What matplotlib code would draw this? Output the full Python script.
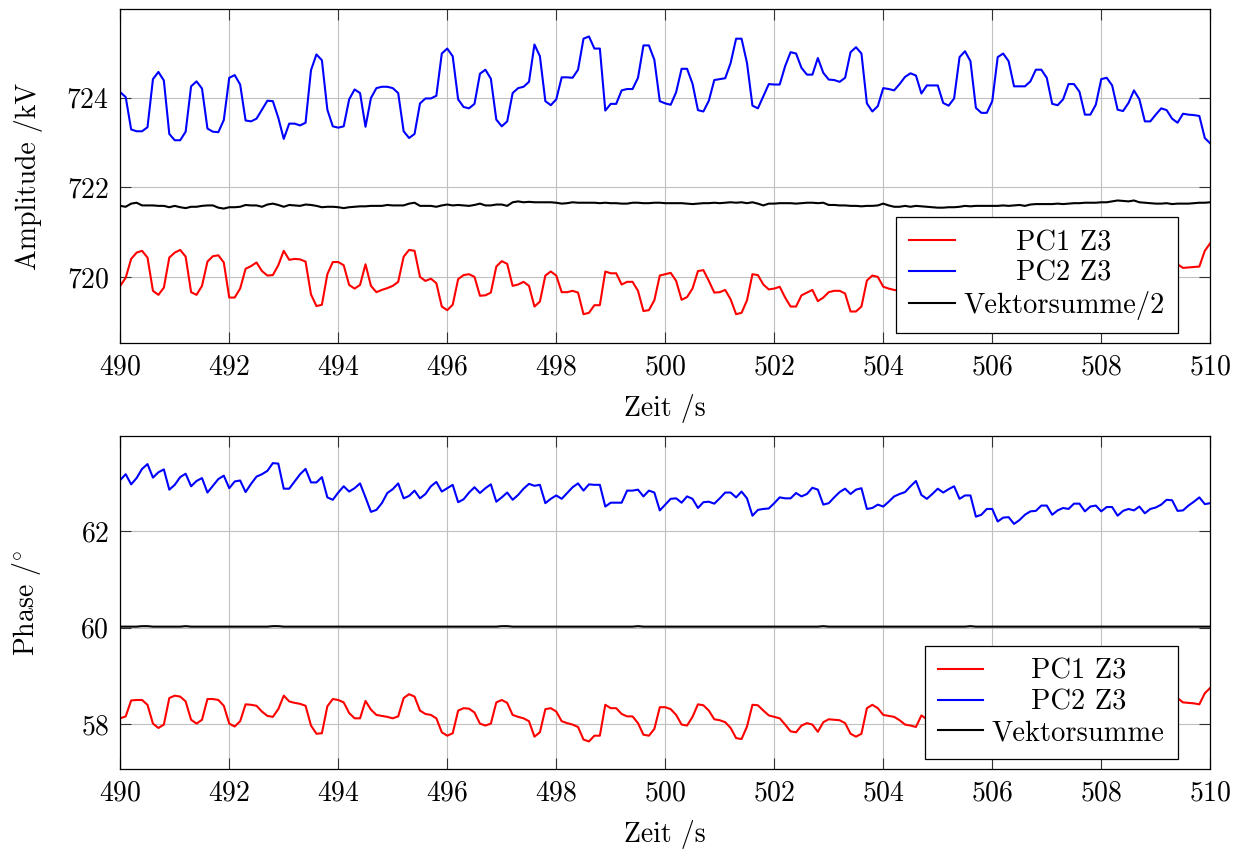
import numpy as np
import matplotlib
matplotlib.use("Agg")
import matplotlib.pyplot as plt

# Zeitachse: 490 s .. 510 s, Abtastung 0.1 s
zeit = np.round(np.linspace(490, 510, 201), 1)

# Amplitude /kV
amp_pc1 = [719.81, 719.99, 720.41, 720.55, 720.59, 720.44, 719.70, 719.61, 719.77, 720.44,
           720.55, 720.61, 720.46, 719.67, 719.61, 719.81, 720.35, 720.47, 720.49, 720.33,
           719.55, 719.55, 719.75, 720.19, 720.25, 720.33, 720.14, 720.04, 720.05, 720.27,
           720.59, 720.39, 720.41, 720.40, 720.35, 719.62, 719.36, 719.39, 720.07, 720.34,
           720.34, 720.27, 719.83, 719.75, 719.83, 720.29, 719.81, 719.67, 719.72, 719.76,
           719.81, 719.90, 720.46, 720.61, 720.59, 720.01, 719.92, 719.97, 719.87, 719.35,
           719.27, 719.39, 719.96, 720.05, 720.07, 720.01, 719.59, 719.60, 719.66, 720.24,
           720.36, 720.30, 719.81, 719.84, 719.90, 719.81, 719.35, 719.46, 720.04, 720.13,
           720.04, 719.67, 719.67, 719.70, 719.66, 719.18, 719.21, 719.38, 719.38, 720.13,
           720.09, 720.09, 719.84, 719.90, 719.90, 719.70, 719.25, 719.27, 719.49, 720.04,
           720.07, 720.10, 719.92, 719.50, 719.56, 719.75, 720.14, 720.16, 719.92, 719.66,
           719.67, 719.72, 719.51, 719.18, 719.21, 719.49, 720.07, 720.05, 719.84, 719.73,
           719.75, 719.79, 719.55, 719.35, 719.35, 719.60, 719.66, 719.72, 719.47, 719.55,
           719.67, 719.70, 719.70, 719.64, 719.24, 719.24, 719.35, 719.93, 720.04, 720.01,
           719.79, 719.75, 719.72, 719.70, 719.70, 719.60, 719.60, 719.95, 719.80, 719.80,
           719.80, 720.15, 720.20, 720.05, 719.35, 719.25, 719.40, 720.20, 720.30, 720.30,
           720.10, 719.35, 719.30, 719.45, 719.85, 719.85, 719.85, 719.75, 719.55, 719.55,
           719.70, 720.15, 720.15, 720.05, 719.80, 719.80, 719.90, 720.30, 720.30, 720.15,
           719.75, 719.70, 719.85, 720.25, 720.25, 720.10, 719.90, 720.05, 720.40, 720.40,
           720.30, 720.20, 720.25, 720.35, 720.29, 720.21, 720.22, 720.23, 720.24, 720.59,
           720.76]
amp_pc2 = [724.12, 724.01, 723.29, 723.25, 723.25, 723.34, 724.41, 724.57, 724.38, 723.19,
           723.05, 723.05, 723.24, 724.25, 724.36, 724.20, 723.31, 723.24, 723.23, 723.50,
           724.44, 724.50, 724.29, 723.49, 723.47, 723.53, 723.73, 723.93, 723.92, 723.55,
           723.08, 723.42, 723.42, 723.38, 723.44, 724.61, 724.96, 724.83, 723.73, 723.36,
           723.33, 723.36, 723.96, 724.18, 724.10, 723.35, 723.99, 724.21, 724.24, 724.24,
           724.21, 724.10, 723.25, 723.10, 723.19, 723.87, 723.98, 723.98, 724.04, 724.98,
           725.09, 724.92, 723.96, 723.79, 723.76, 723.86, 724.53, 724.62, 724.42, 723.51,
           723.36, 723.47, 724.10, 724.21, 724.24, 724.35, 725.18, 724.92, 723.92, 723.83,
           723.96, 724.45, 724.45, 724.44, 724.62, 725.31, 725.36, 725.09, 725.09, 723.71,
           723.86, 723.86, 724.16, 724.19, 724.19, 724.44, 725.16, 725.16, 724.84, 723.92,
           723.87, 723.84, 724.12, 724.64, 724.64, 724.31, 723.72, 723.69, 723.93, 724.39,
           724.41, 724.43, 724.77, 725.31, 725.31, 724.77, 723.82, 723.76, 724.03, 724.30,
           724.29, 724.29, 724.70, 725.01, 724.98, 724.66, 724.51, 724.51, 724.88, 724.55,
           724.40, 724.39, 724.35, 724.44, 725.01, 725.12, 724.98, 723.87, 723.69, 723.81,
           724.21, 724.19, 724.16, 724.30, 724.46, 724.54, 724.49, 724.09, 724.27, 724.27,
           724.27, 723.88, 723.82, 723.98, 724.90, 725.03, 724.81, 723.77, 723.66, 723.66,
           723.92, 724.90, 724.98, 724.81, 724.25, 724.25, 724.25, 724.36, 724.62, 724.62,
           724.44, 723.86, 723.83, 723.96, 724.30, 724.30, 724.13, 723.62, 723.62, 723.84,
           724.41, 724.44, 724.27, 723.73, 723.70, 723.88, 724.16, 723.96, 723.47, 723.47,
           723.62, 723.76, 723.72, 723.53, 723.44, 723.64, 723.62, 723.61, 723.59, 723.10,
           722.98]
amp_summe = [721.59, 721.57, 721.64, 721.66, 721.60, 721.60, 721.60, 721.59, 721.59, 721.56,
             721.59, 721.56, 721.54, 721.57, 721.57, 721.59, 721.60, 721.60, 721.55, 721.53,
             721.56, 721.56, 721.57, 721.61, 721.60, 721.60, 721.57, 721.62, 721.64, 721.61,
             721.57, 721.61, 721.60, 721.59, 721.62, 721.61, 721.59, 721.56, 721.57, 721.57,
             721.56, 721.54, 721.56, 721.57, 721.58, 721.58, 721.59, 721.59, 721.59, 721.61,
             721.60, 721.60, 721.60, 721.64, 721.66, 721.59, 721.59, 721.59, 721.57, 721.60,
             721.62, 721.60, 721.61, 721.60, 721.59, 721.61, 721.64, 721.60, 721.60, 721.62,
             721.62, 721.59, 721.67, 721.69, 721.67, 721.68, 721.67, 721.67, 721.67, 721.67,
             721.66, 721.64, 721.65, 721.67, 721.66, 721.66, 721.66, 721.66, 721.65, 721.66,
             721.65, 721.65, 721.64, 721.64, 721.66, 721.66, 721.65, 721.65, 721.66, 721.66,
             721.65, 721.65, 721.65, 721.65, 721.64, 721.63, 721.64, 721.65, 721.65, 721.66,
             721.65, 721.66, 721.67, 721.66, 721.67, 721.65, 721.67, 721.64, 721.60, 721.64,
             721.64, 721.65, 721.65, 721.65, 721.64, 721.65, 721.66, 721.66, 721.65, 721.66,
             721.61, 721.61, 721.60, 721.60, 721.59, 721.59, 721.58, 721.59, 721.59, 721.60,
             721.64, 721.60, 721.57, 721.57, 721.59, 721.57, 721.59, 721.58, 721.57, 721.56,
             721.55, 721.55, 721.56, 721.56, 721.57, 721.59, 721.58, 721.59, 721.59, 721.59,
             721.59, 721.59, 721.60, 721.59, 721.60, 721.61, 721.59, 721.62, 721.63, 721.63,
             721.63, 721.63, 721.64, 721.63, 721.64, 721.65, 721.65, 721.66, 721.66, 721.66,
             721.67, 721.67, 721.69, 721.71, 721.70, 721.69, 721.71, 721.67, 721.66, 721.65,
             721.64, 721.64, 721.65, 721.63, 721.64, 721.64, 721.64, 721.65, 721.66, 721.66,
             721.67]

# Phase /grad
ph_pc1 = [58.12, 58.16, 58.49, 58.50, 58.50, 58.40, 58.01, 57.92, 57.99, 58.54,
          58.59, 58.57, 58.47, 58.09, 58.01, 58.09, 58.52, 58.52, 58.50, 58.38,
          58.01, 57.95, 58.06, 58.41, 58.40, 58.38, 58.26, 58.17, 58.15, 58.31,
          58.59, 58.47, 58.44, 58.42, 58.38, 57.97, 57.80, 57.81, 58.37, 58.52,
          58.50, 58.45, 58.23, 58.12, 58.12, 58.48, 58.30, 58.19, 58.17, 58.15,
          58.12, 58.16, 58.54, 58.62, 58.57, 58.28, 58.21, 58.19, 58.12, 57.83,
          57.76, 57.81, 58.28, 58.33, 58.32, 58.24, 58.01, 57.97, 58.01, 58.45,
          58.50, 58.44, 58.19, 58.15, 58.12, 58.06, 57.74, 57.83, 58.31, 58.33,
          58.26, 58.06, 58.02, 57.99, 57.94, 57.68, 57.64, 57.76, 57.76, 58.40,
          58.33, 58.33, 58.21, 58.16, 58.16, 58.02, 57.78, 57.76, 57.90, 58.35,
          58.35, 58.31, 58.19, 57.99, 57.97, 58.15, 58.41, 58.39, 58.28, 58.10,
          58.08, 58.04, 57.92, 57.71, 57.69, 57.95, 58.40, 58.39, 58.28, 58.18,
          58.15, 58.12, 57.99, 57.85, 57.83, 57.97, 58.02, 57.99, 57.84, 58.04,
          58.10, 58.09, 58.08, 58.02, 57.80, 57.74, 57.80, 58.33, 58.40, 58.33,
          58.19, 58.17, 58.15, 58.08, 57.99, 57.97, 57.94, 58.18, 58.10, 58.10,
          58.05, 58.30, 58.35, 58.25, 57.85, 57.80, 57.90, 58.35, 58.40, 58.40,
          58.30, 57.85, 57.80, 57.90, 58.15, 58.15, 58.15, 58.10, 57.95, 57.95,
          58.05, 58.30, 58.30, 58.25, 58.10, 58.10, 58.15, 58.40, 58.40, 58.30,
          58.05, 58.00, 58.10, 58.35, 58.35, 58.25, 58.15, 58.25, 58.45, 58.45,
          58.40, 58.35, 58.40, 58.45, 58.54, 58.45, 58.44, 58.43, 58.41, 58.64,
          58.75]
ph_pc2 = [63.06, 63.18, 62.97, 63.10, 63.29, 63.39, 63.11, 63.22, 63.28, 62.86,
          62.96, 63.12, 63.19, 62.93, 63.04, 63.10, 62.80, 62.94, 63.08, 63.15,
          62.89, 63.03, 63.05, 62.81, 62.98, 63.13, 63.18, 63.25, 63.41, 63.40,
          62.88, 62.88, 63.03, 63.18, 63.29, 63.01, 63.01, 63.12, 62.70, 62.65,
          62.80, 62.93, 62.82, 62.89, 62.99, 62.70, 62.40, 62.44, 62.58, 62.79,
          62.87, 62.99, 62.68, 62.73, 62.84, 62.68, 62.77, 62.93, 63.02, 62.82,
          62.89, 62.96, 62.60, 62.66, 62.80, 62.91, 62.79, 62.89, 62.97, 62.61,
          62.70, 62.80, 62.65, 62.75, 62.88, 62.98, 62.94, 62.96, 62.58, 62.67,
          62.74, 62.67, 62.79, 62.91, 62.99, 62.84, 62.97, 62.96, 62.96, 62.51,
          62.59, 62.59, 62.59, 62.84, 62.84, 62.86, 62.72, 62.84, 62.80, 62.43,
          62.55, 62.67, 62.68, 62.59, 62.72, 62.67, 62.48, 62.60, 62.61, 62.57,
          62.68, 62.80, 62.80, 62.70, 62.82, 62.68, 62.32, 62.44, 62.46, 62.47,
          62.58, 62.70, 62.68, 62.68, 62.79, 62.72, 62.77, 62.90, 62.86, 62.55,
          62.58, 62.70, 62.81, 62.88, 62.77, 62.86, 62.89, 62.46, 62.48, 62.55,
          62.51, 62.61, 62.72, 62.77, 62.81, 62.93, 63.04, 62.75, 62.67, 62.77,
          62.88, 62.80, 62.87, 62.93, 62.67, 62.74, 62.74, 62.30, 62.34, 62.46,
          62.46, 62.20, 62.28, 62.29, 62.15, 62.23, 62.34, 62.41, 62.42, 62.53,
          62.53, 62.34, 62.43, 62.48, 62.46, 62.57, 62.57, 62.41, 62.51, 62.53,
          62.41, 62.50, 62.50, 62.32, 62.42, 62.46, 62.43, 62.51, 62.37, 62.46,
          62.49, 62.55, 62.65, 62.64, 62.42, 62.43, 62.53, 62.61, 62.70, 62.56,
          62.58]
ph_summe = [60.02, 60.02, 60.02, 60.02, 60.03, 60.03, 60.02, 60.02, 60.02, 60.02,
            60.02, 60.02, 60.03, 60.02, 60.02, 60.02, 60.02, 60.02, 60.02, 60.02,
            60.02, 60.02, 60.02, 60.02, 60.02, 60.02, 60.02, 60.02, 60.03, 60.03,
            60.02, 60.02, 60.02, 60.02, 60.02, 60.02, 60.02, 60.02, 60.02, 60.02,
            60.02, 60.02, 60.02, 60.02, 60.02, 60.02, 60.02, 60.02, 60.02, 60.02,
            60.02, 60.02, 60.02, 60.02, 60.02, 60.02, 60.02, 60.02, 60.02, 60.02,
            60.02, 60.02, 60.02, 60.02, 60.02, 60.02, 60.02, 60.02, 60.02, 60.02,
            60.03, 60.03, 60.02, 60.02, 60.02, 60.02, 60.02, 60.02, 60.02, 60.02,
            60.02, 60.02, 60.02, 60.02, 60.02, 60.02, 60.02, 60.02, 60.02, 60.02,
            60.02, 60.02, 60.02, 60.02, 60.02, 60.03, 60.02, 60.02, 60.02, 60.02,
            60.02, 60.02, 60.02, 60.02, 60.02, 60.02, 60.02, 60.02, 60.02, 60.02,
            60.02, 60.02, 60.02, 60.02, 60.02, 60.02, 60.02, 60.02, 60.02, 60.02,
            60.02, 60.02, 60.02, 60.02, 60.02, 60.02, 60.02, 60.02, 60.02, 60.03,
            60.02, 60.02, 60.02, 60.02, 60.02, 60.02, 60.02, 60.02, 60.02, 60.02,
            60.02, 60.02, 60.02, 60.02, 60.02, 60.02, 60.02, 60.02, 60.02, 60.02,
            60.02, 60.02, 60.02, 60.02, 60.02, 60.02, 60.03, 60.02, 60.02, 60.02,
            60.02, 60.02, 60.02, 60.02, 60.02, 60.02, 60.02, 60.02, 60.02, 60.02,
            60.02, 60.02, 60.02, 60.02, 60.02, 60.02, 60.02, 60.02, 60.02, 60.02,
            60.02, 60.02, 60.02, 60.02, 60.02, 60.02, 60.02, 60.02, 60.02, 60.02,
            60.02, 60.02, 60.02, 60.02, 60.02, 60.02, 60.02, 60.02, 60.02, 60.02,
            60.02]

plt.rcParams['font.family'] = 'serif'
plt.rcParams['font.serif'] = ['cmr10']
plt.rcParams['mathtext.fontset'] = 'cm'
plt.rcParams['axes.formatter.use_mathtext'] = True
plt.rcParams['font.size'] = 20


def style_axes(ax, ylim, yticks, ylabel):
    '''pgfplots-artige Achsen: Gitter, Ticks innen auf allen Seiten'''
    ax.set_xlim(490, 510)
    ax.set_ylim(*ylim)
    ax.set_xticks(np.arange(490, 511, 2))
    ax.set_yticks(yticks)
    ax.grid(True, color='#c0c0c0', linewidth=0.8)
    ax.set_axisbelow(True)
    ax.tick_params(direction='in', top=True, right=True, length=8, width=0.8,
                   color='#333333', labelsize=20)
    ax.tick_params(axis='x', pad=8)
    ax.tick_params(axis='y', pad=8)
    for s in ax.spines.values():
        s.set_linewidth(0.9)
        s.set_color('black')
    ax.set_xlabel('Zeit /s', fontsize=20, labelpad=10)
    ax.set_ylabel(ylabel, fontsize=20)
    ax.yaxis.set_label_coords(-0.071, 0.5)


fig = plt.figure(figsize=(12.5, 8.51), dpi=100)
ax1 = fig.add_axes([0.0962, 0.597, 0.872, 0.3924])
ax2 = fig.add_axes([0.0962, 0.0964, 0.872, 0.3917])

lw = 1.5
ax1.plot(zeit, amp_pc1, color='red', lw=lw, label='PC1 Z3')
ax1.plot(zeit, amp_pc2, color='blue', lw=lw, label='PC2 Z3')
ax1.plot(zeit, amp_summe, color='black', lw=lw, label='Vektorsumme/2')
style_axes(ax1, (718.54, 725.97), [720, 722, 724], 'Amplitude /kV')

ax2.plot(zeit, ph_pc1, color='red', lw=lw, label='PC1 Z3')
ax2.plot(zeit, ph_pc2, color='blue', lw=lw, label='PC2 Z3')
ax2.plot(zeit, ph_summe, color='black', lw=lw, label='Vektorsumme')
style_axes(ax2, (57.07, 63.98), [58, 60, 62], 'Phase /$^{\\circ}$')

legends = []
for ax in (ax1, ax2):
    leg = ax.legend(loc='lower right', bbox_to_anchor=(0.97, 0.03), borderaxespad=0,
                    fontsize=20.5, fancybox=False, framealpha=1, edgecolor='black',
                    handlelength=1.6, handletextpad=0.3, labelspacing=0.15,
                    borderpad=0.45)
    leg.get_frame().set_linewidth(0.9)
    legends.append(leg)

# Legendentexte mittig in der Textspalte (wie pgfplots)
fig.canvas.draw()
r = fig.canvas.get_renderer()
for leg in legends:
    texts = leg.get_texts()
    widths = [t.get_window_extent(r).width for t in texts]
    wmax = max(widths)
    for t, w in zip(texts, widths):
        t.set_x((wmax - w) / 2)

fig.savefig('out.png', dpi=100)
